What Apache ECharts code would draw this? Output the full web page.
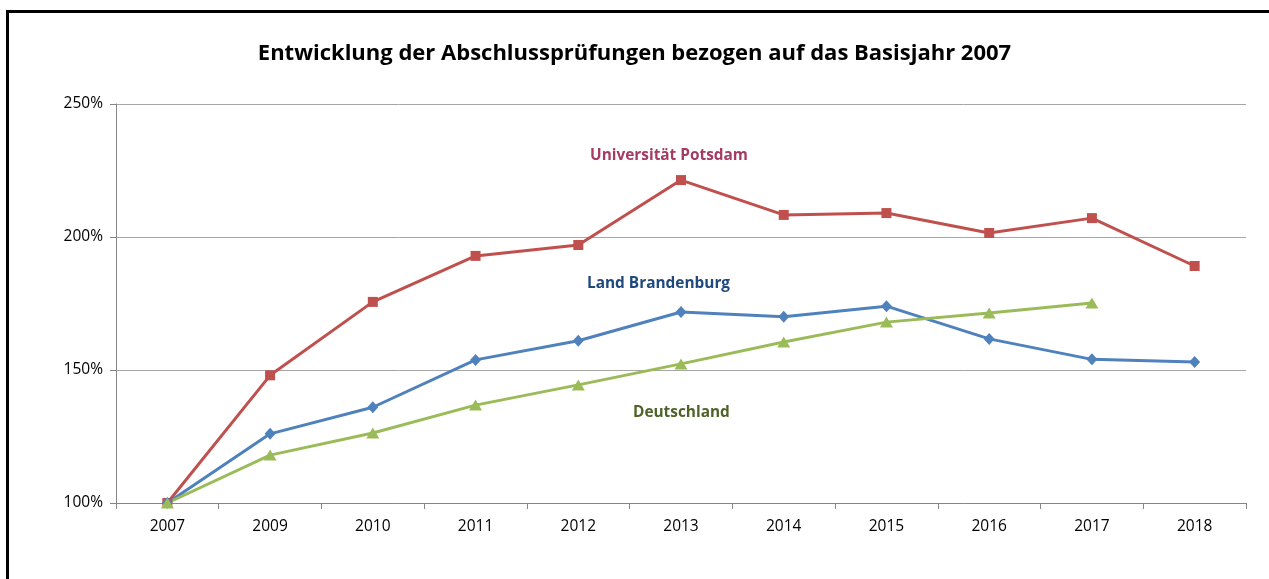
<!DOCTYPE html>
<html>
<head>
<meta charset="utf-8">
<script src="https://cdn.jsdelivr.net/npm/echarts@6/dist/echarts.min.js"></script>
<style>
  html, body { margin: 0; padding: 0; background: #fff; overflow: hidden; }
  #frame {
    position: absolute; left: 6px; top: 10px; width: 1400px; height: 700px;
    border-left: 3px solid #000; border-top: 3px solid #000; box-sizing: border-box;
  }
  #chart { position: absolute; left: 0; top: 0; width: 1269px; height: 579px; }
</style>
</head>
<body>
<div id="frame"></div>
<div id="chart"></div>
<script>
const years = ["2007", "2009", "2010", "2011", "2012", "2013", "2014", "2015", "2016", "2017", "2018"]

// Werte in Prozent, 2007 = 100 %
const potsdam = [100, 148, 175.6, 192.9, 197, 221.4, 208.3, 209, 201.5, 207.1, 189.1]
const brandenburg = [100, 126, 136, 153.8, 161, 171.8, 170, 174, 161.7, 154, 153]
const deutschland = [100, 118, 126.3, 136.8, 144.4, 152.3, 160.5, 168, 171.4, 175.2, null]

const seriesLabels = ["Universität Potsdam", "Land Brandenburg", "Deutschland"]

const FONT = "Open Sans"

const chart = echarts.init(document.getElementById("chart"))

chart.setOption({
  animation: false,
  backgroundColor: "transparent",
  title: {
    text: "Entwicklung der Abschlussprüfungen bezogen auf das Basisjahr 2007",
    left: "center",
    top: 38,
    textStyle: { fontFamily: FONT, fontSize: 22, fontWeight: "bold", color: "#000" },
  },
  grid: { left: 116, right: 23, top: 104, bottom: 76 },
  xAxis: {
    type: "category",
    data: years,
    boundaryGap: true,
    axisLine: { lineStyle: { color: "#868686", width: 1 } },
    axisTick: { show: true, length: 6, lineStyle: { color: "#868686" } },
    axisLabel: { fontFamily: FONT, fontSize: 15.5, color: "#000", margin: 16 },
  },
  yAxis: {
    type: "value",
    min: 100,
    max: 250,
    interval: 50,
    axisLine: { show: true, lineStyle: { color: "#868686", width: 1 } },
    axisTick: { show: true, length: 6, lineStyle: { color: "#868686" } },
    axisLabel: { fontFamily: FONT, fontSize: 15.5, color: "#000", margin: 13, formatter: "{value}%" },
    splitLine: { lineStyle: { color: "#a6a6a6", width: 1 } },
  },
  series: [
    {
      name: seriesLabels[0],
      type: "line",
      data: potsdam,
      symbol: "rect",
      symbolSize: 10,
      lineStyle: { width: 3, color: "#c0504d" },
      itemStyle: { color: "#c0504d" },
    },
    {
      name: seriesLabels[1],
      type: "line",
      data: brandenburg,
      symbol: "diamond",
      symbolSize: [11, 12],
      lineStyle: { width: 3, color: "#4f81bd" },
      itemStyle: { color: "#4f81bd" },
    },
    {
      name: seriesLabels[2],
      type: "line",
      data: deutschland,
      symbol: "triangle",
      symbolSize: [13, 11],
      lineStyle: { width: 3, color: "#9bbb59" },
      itemStyle: { color: "#9bbb59" },
    },
  ],
  graphic: [
    {
      type: "text", left: 590, top: 148,
      style: { text: seriesLabels[0], fill: "#a43b62", font: "bold 15.4px 'Open Sans'" },
    },
    {
      type: "text", left: 587, top: 276,
      style: { text: seriesLabels[1], fill: "#1f497d", font: "bold 15.4px 'Open Sans'" },
    },
    {
      type: "text", left: 633, top: 405,
      style: { text: seriesLabels[2], fill: "#4f6228", font: "bold 15.4px 'Open Sans'" },
    },
  ],
})
</script>
</body>
</html>
